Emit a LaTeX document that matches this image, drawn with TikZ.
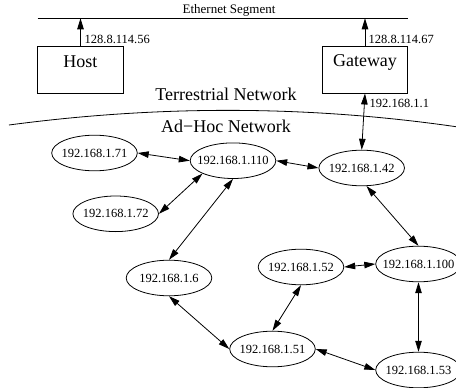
\documentclass[tikz,border=0pt]{standalone}
\usepackage{fontspec}
\setmainfont{Liberation Serif}
\usetikzlibrary{shapes.geometric,arrows.meta}
\newcommand{\peertext}[1]{\makebox[0pt]{#1}}
\tikzset{
  x=1pt,y=-1pt,
  host/.style={draw,line width=0.8pt,minimum width=85.6pt,minimum height=46.7pt,inner sep=0pt},
  peer/.style={draw,ellipse,line width=0.8pt,minimum width=85.6pt,minimum height=35.6pt,inner sep=0pt,font=\fontsize{12.5}{14}\selectfont},
  link/.style={line width=0.8pt,{Triangle[length=11pt,width=6.5pt]}-{Triangle[length=11pt,width=6.5pt]}},
  uplink/.style={line width=0.8pt,-{Triangle[length=11pt,width=6.5pt]}},
  addr/.style={font=\fontsize{12.5}{14}\selectfont,anchor=west,inner sep=0pt},
  big/.style={font=\fontsize{18}{20}\selectfont,inner sep=0pt},
  plain/.style={line width=0.8pt}
}
\begin{document}
\begin{tikzpicture}
\useasboundingbox (0,0) rectangle (456,388);
\coordinate (ethL) at (37.7,18.3);
\coordinate (ethR) at (407.7,18.3);
\coordinate (ethH) at (80.5,18.3);
\coordinate (ethG) at (365,18.3);
\coordinate (arcL) at (9,125);
\coordinate (arcR) at (456,126.7);
\draw[plain] (ethL) -- (ethR);
\node[font=\fontsize{13}{15}\selectfont,inner sep=0pt] (eth) at (229,10.7) {Ethernet Segment};
\node[host] (host) at (80.5,69.7) {};
\node[host] (gw) at (365,69.7) {};
\node[big] (hostt) at (80.5,62) {Host};
\node[big] (gwt) at (365,62) {Gateway};
\draw[uplink] (host.north) -- (ethH);
\draw[uplink] (gw.north) -- (ethG);
\node[addr] (a1) at (84.5,39) {128.8.114.56};
\node[addr] (a2) at (368.5,39) {128.8.114.67};
\node[addr] (a3) at (369.5,103) {192.168.1.1};
\node[big] (tn) at (226,94) {Terrestrial Network};
\node[big] (ah) at (226,126.5) {Ad−Hoc Network};
\draw[plain] (arcL) .. controls (158,105.2) and (307,105.2) .. (arcR);
\node[peer] (n71) at (94.5,153) {\peertext{192.168.1.71}};
\node[peer] (n110) at (233,160.7) {\peertext{192.168.1.110}};
\node[peer] (n42) at (361.7,168) {\peertext{192.168.1.42}};
\node[peer] (n72) at (115.7,213.8) {\peertext{192.168.1.72}};
\node[peer] (n6) at (169,278) {\peertext{192.168.1.6}};
\node[peer] (n52) at (301,267) {\peertext{192.168.1.52}};
\node[peer] (n100) at (418.5,264) {\peertext{192.168.1.100}};
\node[peer] (n51) at (272.5,349) {\peertext{192.168.1.51}};
\node[peer] (n53) at (418.5,370) {\peertext{192.168.1.53}};
\draw[link] (gw.south) -- (n42.north);
\draw[link] (n71.east) -- (n110.west);
\draw[link] (n110.east) -- (n42.west);
\draw[link] (n72.east) -- (n110.south west);
\draw[link] (n110.south) -- (n6.north);
\draw[link] (n42.285) -- (n100.north);
\draw[link] (n52.east) -- (n100.west);
\draw[link] (n52.south) -- (n51.north);
\draw[link] (n100.south) -- (n53.north);
\draw[link] (n51.east) -- (n53.west);
\draw[link] (n6.south) -- (n51.west);
\end{tikzpicture}
\end{document}
